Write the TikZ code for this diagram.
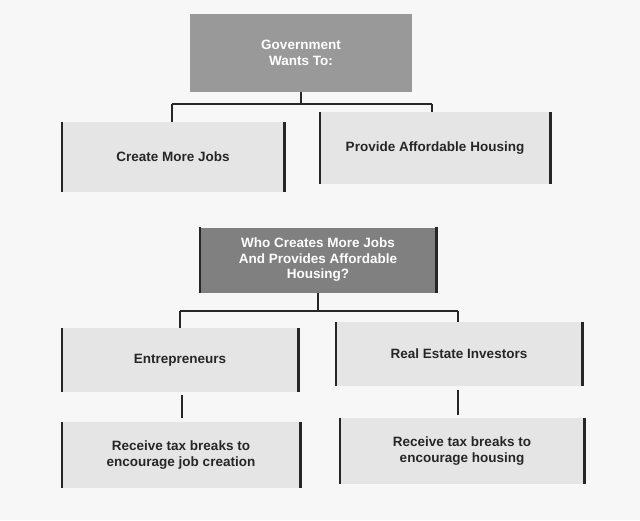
\documentclass[tikz,border=0pt]{standalone}
\usepackage{fontspec}
\setmainfont{Liberation Sans}
\begin{document}
\begin{tikzpicture}[x=1pt,y=-1pt,
  box/.style={fill=black!10,inner sep=0pt,align=center,font=\bfseries\fontsize{13.5}{15.5}\selectfont,text=black!85},
  head/.style={fill=black!40,inner sep=0pt,align=center,font=\bfseries\fontsize{13.5}{15.5}\selectfont,text=white},
  bar/.style={line width=2.6pt,black!85},
  conn/.style={line width=1.8pt,black!85}]
\fill[black!3] (0,0) rectangle (640,520);
\useasboundingbox (0,0) rectangle (640,520);
\node[head,minimum width=222,minimum height=78] (gov) at (301,53) {Government\\Wants To:};
\node[box,minimum width=222,minimum height=70] (jobs) at (173,157) {Create More Jobs};
\node[box,minimum width=230,minimum height=72] (house) at (435,148) {Provide Affordable Housing};
\node[head,fill=black!50,minimum width=236,minimum height=65] (who) at (318,260) {Who Creates More Jobs\\And Provides Affordable\\Housing?};
\node[box,minimum width=236,minimum height=64] (ent) at (180,360) {Entrepreneurs};
\node[box,minimum width=246,minimum height=64] (rei) at (459,354) {Real Estate Investors};
\node[box,minimum width=238,minimum height=66] (tax1) at (181,455) {Receive tax breaks to\\encourage job creation};
\node[box,minimum width=244,minimum height=66] (tax2) at (462,451) {Receive tax breaks to\\encourage housing};
\foreach \n in {jobs,house,ent,rei,tax1,tax2}{
  \draw[bar] (\n.north west)--(\n.south west);
  \draw[bar] (\n.north east)--(\n.south east);}
\draw[bar] (who.north west)--(who.south west);
\draw[bar] (who.north east)--(who.south east);
\draw[conn] (gov.south) -- (301,104);
\draw[conn] (172,104) -- (432,104);
\draw[conn] (172,104) -- (172,122);
\draw[conn] (432,104) -- (432,112);
\draw[conn] (who.south) -- (318,311);
\draw[conn] (180,311) -- (458,311);
\draw[conn] (180,311) -- (180,328);
\draw[conn] (458,311) -- (458,322);
\draw[conn] (182,395) -- (182,418);
\draw[conn] (458,390) -- (458,415);
\end{tikzpicture}
\end{document}
